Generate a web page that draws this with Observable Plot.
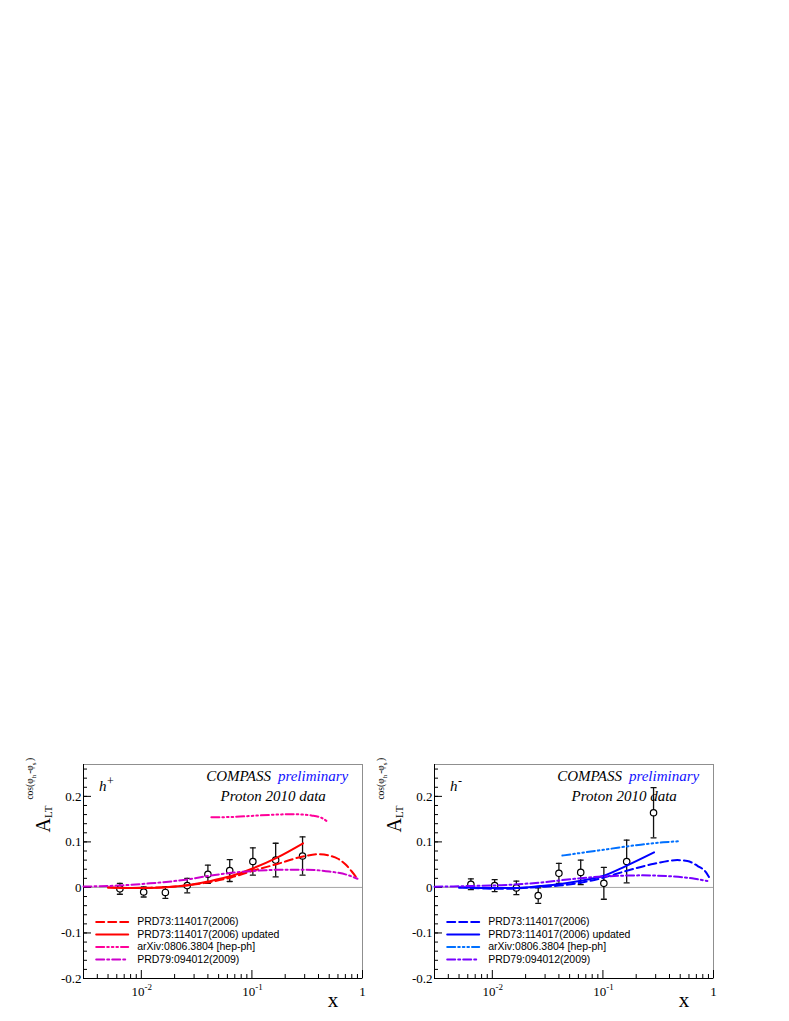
<!DOCTYPE html>
<html><head><meta charset="utf-8">
<script src="https://cdn.jsdelivr.net/npm/d3@7"></script>
<script src="https://cdn.jsdelivr.net/npm/@observablehq/plot@0.6"></script>
<style>
body{margin:0;background:#fff;}
#root{position:relative;width:789px;height:1021px;overflow:hidden;background:#fff;}
.panel{position:absolute;top:750px;}
</style></head><body><div id="root"></div>
<script>
// ---------------- data ----------------
const xBins = [0.0064, 0.0105, 0.0165, 0.026, 0.040, 0.063, 0.102, 0.164, 0.287];
const hPlusA   = [-0.003, -0.010, -0.011, 0.004, 0.029, 0.037, 0.057, 0.060, 0.069];
const hPlusErr = [0.012, 0.011, 0.013, 0.016, 0.020, 0.024, 0.030, 0.037, 0.042];
const hMinusA   = [0.007, 0.004, -0.001, -0.018, 0.031, 0.033, 0.009, 0.057, 0.164];
const hMinusErr = [0.012, 0.013, 0.015, 0.017, 0.022, 0.027, 0.035, 0.047, 0.055];

// theory curves, h+
const plus2006X = [0.005, 0.008, 0.012, 0.017, 0.025, 0.04, 0.065, 0.1, 0.167, 0.29, 0.4, 0.5, 0.6, 0.7, 0.8, 0.9];
const plus2006Y = [0.000, -0.001, -0.0005, 0.001, 0.004, 0.011, 0.022, 0.036, 0.051, 0.068, 0.073, 0.070, 0.063, 0.051, 0.035, 0.019];
const plusUpdX = [0.005, 0.008, 0.012, 0.017, 0.025, 0.04, 0.065, 0.1, 0.167, 0.29];
const plusUpdY = [0.000, -0.0015, -0.001, 0.0005, 0.004, 0.013, 0.025, 0.041, 0.065, 0.097];
const plusArxivX = [0.043, 0.07, 0.114, 0.17, 0.228, 0.29, 0.345, 0.425, 0.49];
const plusArxivY = [0.154, 0.155, 0.158, 0.160, 0.161, 0.160, 0.158, 0.153, 0.143];
const plusPrd79X = [0.003, 0.006, 0.012, 0.025, 0.04, 0.065, 0.1, 0.2, 0.3, 0.5, 0.74, 0.9];
const plusPrd79Y = [0.002, 0.004, 0.009, 0.017, 0.025, 0.032, 0.036, 0.039, 0.039, 0.035, 0.027, 0.019];

// theory curves, h-
const minus2006X = [0.005, 0.008, 0.012, 0.017, 0.027, 0.04, 0.065, 0.1, 0.161, 0.29, 0.47, 0.58, 0.72, 0.85, 0.91];
const minus2006Y = [0.000, -0.002, -0.003, -0.002, 0.001, 0.004, 0.011, 0.021, 0.036, 0.052, 0.060, 0.058, 0.047, 0.034, 0.023];
const minusUpdX = [0.005, 0.008, 0.012, 0.017, 0.027, 0.04, 0.065, 0.1, 0.161, 0.29];
const minusUpdY = [0.000, -0.001, -0.0015, -0.001, 0.003, 0.007, 0.015, 0.025, 0.047, 0.077];
const minusArxivX = [0.043, 0.11, 0.22, 0.35, 0.49];
const minusArxivY = [0.070, 0.084, 0.094, 0.099, 0.1015];
const minusPrd79X = [0.003, 0.006, 0.012, 0.028, 0.055, 0.1, 0.22, 0.44, 0.64, 0.88];
const minusPrd79Y = [0.0015, 0.003, 0.005, 0.011, 0.019, 0.024, 0.0265, 0.024, 0.020, 0.014];

const legendLabels = ["PRD73:114017(2006)", "PRD73:114017(2006) updated", "arXiv:0806.3804 [hep-ph]", "PRD79:094012(2009)"];
const yMajor = [-0.2, -0.1, 0, 0.1, 0.2];
const yTickLabels = ["-0.2", "-0.1", "0", "0.1", "0.2"];
const xMajor = [0.01, 0.1, 1];
const xTickBase = ["10", "10", "1"];
const xTickExp = ["-2", "-1", ""];
const xDomain = [0.003, 1];
const yDomain = [-0.2, 0.27];

// ---------------- drawing ----------------
const SERIF = "'Liberation Serif','Times New Roman',serif";
const SANS = "'Liberation Sans',Arial,sans-serif";
const W = 395, H = 271, ML = 83, MR = 33, MT = 14, MB = 43;
const lineShape = {draw(ctx, l) { ctx.moveTo(0, 0); ctx.lineTo(0, -l); }};
const yMinor = d3.range(-10, 14).map(i => +(i * 0.02).toFixed(2));
const xMinor = [0.001, 0.01, 0.1].flatMap(d => d3.range(2, 10).map(k => +(k * d).toPrecision(3))).filter(v => v >= 0.003 && v < 1);
const xTicks = xMajor.map((v, i) => ({v, base: xTickBase[i], exp: xTickExp[i]}));
const DASH = "8,4", DASHDOT = "8,3,2,3", DASH3DOT = "8,3,1.6,3,1.6,3,1.6,3";
const legendRows = [157.5, 170, 182.5, 195];

function panel(P) {
  const pts = xBins.map((x, i) => ({x, y: P.vals[i], lo: P.vals[i] - P.errs[i], hi: P.vals[i] + P.errs[i]}));
  const marks = [
    Plot.ruleY([0], {stroke: "#a6a6a6", strokeWidth: 1}),
    Plot.frame({stroke: "#8f8f8f", strokeWidth: 1}),
    Plot.ruleX([xDomain[0]], {stroke: "#000", strokeWidth: 1}),
    Plot.ruleY([yDomain[0]], {stroke: "#000", strokeWidth: 1}),
    Plot.axisY(yMinor, {tickSize: -4, fill: "none", stroke: "#000"}),
    Plot.axisY(yMajor, {tickSize: -8, fill: "none", stroke: "#000"}),
    Plot.axisX(xMinor, {tickSize: -4, fill: "none", stroke: "#000"}),
    Plot.axisX(xMajor, {tickSize: -8, fill: "none", stroke: "#000"}),
    Plot.text(yMajor, {y: d => d, text: (d, i) => yTickLabels[i], frameAnchor: "left", textAnchor: "end", lineAnchor: "middle", dx: -2, fontSize: 13, fontFamily: SERIF, fill: "#000"}),
    Plot.text(xTicks.filter(t => t.exp), {x: "v", text: "base", frameAnchor: "bottom", textAnchor: "end", lineAnchor: "bottom", dx: 3.3, dy: 17, fontSize: 13, fontFamily: SERIF}),
    Plot.text(xTicks.filter(t => t.exp), {x: "v", text: "exp", frameAnchor: "bottom", textAnchor: "start", lineAnchor: "bottom", dx: 3.3, dy: 11.5, fontSize: 9, fontFamily: SERIF}),
    Plot.text(xTicks.filter(t => !t.exp), {x: "v", text: "base", frameAnchor: "bottom", textAnchor: "middle", lineAnchor: "bottom", dy: 17, fontSize: 13, fontFamily: SERIF}),
    Plot.text(["x"], {text: d => d, frameAnchor: "bottom-right", textAnchor: "end", lineAnchor: "bottom", dx: -24.3, dy: 28.7, fontSize: 21, fontFamily: SERIF}),
    // data
    Plot.ruleX(pts, {x: "x", y1: "lo", y2: "hi", stroke: "#111", strokeWidth: 1.3}),
    Plot.vector(pts, {x: "x", y: "lo", length: 5, rotate: 90, anchor: "middle", shape: lineShape, stroke: "#111", strokeWidth: 1.3}),
    Plot.vector(pts, {x: "x", y: "hi", length: 5, rotate: 90, anchor: "middle", shape: lineShape, stroke: "#111", strokeWidth: 1.3}),
    Plot.dot(pts, {x: "x", y: "y", r: 3.2, stroke: "#000", fill: "#fff", strokeWidth: 1.2})
  ];
  // theory curves
  P.curves.forEach(c => {
    marks.push(Plot.line(c.xs.map((x, i) => ({x, y: c.ys[i]})), {x: "x", y: "y", stroke: c.color, strokeWidth: 2, strokeDasharray: c.dash, curve: "monotone-x"}));
  });
  // legend
  P.curves.forEach((c, i) => {
    marks.push(Plot.vector([c.label], {frameAnchor: "top-left", dx: 12.7, dy: legendRows[i], length: 32, rotate: 90, anchor: "start", shape: lineShape, stroke: c.color, strokeWidth: 2, strokeDasharray: c.dash}));
    marks.push(Plot.text([c.label], {text: d => d, frameAnchor: "top-left", dx: 53.7, dy: legendRows[i], textAnchor: "start", lineAnchor: "middle", fontSize: 10.5, fontFamily: SANS, fill: "#000"}));
  });
  // titles
  marks.push(
    Plot.text(["COMPASS"], {text: d => d, frameAnchor: "top-left", dx: 122.7, dy: 16.7, textAnchor: "start", lineAnchor: "bottom", fontSize: 15, fontStyle: "italic", fontFamily: SERIF, fill: "#000"}),
    Plot.text(["preliminary"], {text: d => d, frameAnchor: "top-left", dx: 194.4, dy: 16.7, textAnchor: "start", lineAnchor: "bottom", fontSize: 15, fontStyle: "italic", fontFamily: SERIF, fill: "#1010ff"}),
    Plot.text(["Proton 2010 data"], {text: d => d, frameAnchor: "top-left", dx: 189.7, dy: 36, textAnchor: "middle", lineAnchor: "bottom", fontSize: 15, fontStyle: "italic", fontFamily: SERIF, fill: "#000"}),
    Plot.text(["h"], {text: d => d, frameAnchor: "top-left", dx: 15.4, dy: 26, textAnchor: "start", lineAnchor: "bottom", fontSize: 15, fontStyle: "italic", fontFamily: SERIF}),
    Plot.text([P.sign], {text: d => d, frameAnchor: "top-left", dx: 23.5, dy: 20, textAnchor: "start", lineAnchor: "bottom", fontSize: 12, fontFamily: SERIF}),
    Plot.text(["A"], {text: d => d, frameAnchor: "top-left", dx: -33.3, dy: 68, rotate: -90, textAnchor: "start", lineAnchor: "bottom", fontSize: 20, fontFamily: SERIF})
  );
  const svg = Plot.plot({
    width: W, height: H,
    marginLeft: ML, marginRight: MR, marginTop: MT, marginBottom: MB,
    x: {type: "log", domain: xDomain},
    y: {domain: yDomain},
    style: {background: "transparent", overflow: "visible", fontFamily: SERIF},
    marks
  });
  // y title with sub/superscripts (the rotated "A" text element)
  const t = d3.select(svg).selectAll("text").filter(function() {
    return this.textContent === "A" && /rotate/.test(this.getAttribute("transform") || "");
  });
  if (!t.empty()) {
    t.text(null);
    t.append("tspan").text("A");
    t.append("tspan").attr("font-size", 11).attr("dy", 2).text("LT");
    t.append("tspan").attr("font-size", 9.5).attr("dx", 6).attr("dy", -19).text("cos(φ");
    t.append("tspan").attr("font-size", 7).attr("dy", 2.5).text("h");
    t.append("tspan").attr("font-size", 9.5).attr("dx", 1).attr("dy", -2.5).text("-φ");
    t.append("tspan").attr("font-size", 7).attr("dy", 2.5).text("s");
    t.append("tspan").attr("font-size", 9.5).attr("dx", 1.5).attr("dy", -2.5).text(")");
  }
  return svg;
}

const panels = [
  {left: 0, sign: "+", vals: hPlusA, errs: hPlusErr, curves: [
    {label: legendLabels[0], xs: plus2006X, ys: plus2006Y, color: "#ff0000", dash: DASH},
    {label: legendLabels[1], xs: plusUpdX, ys: plusUpdY, color: "#ff0000", dash: null},
    {label: legendLabels[2], xs: plusArxivX, ys: plusArxivY, color: "#ff0099", dash: DASH3DOT},
    {label: legendLabels[3], xs: plusPrd79X, ys: plusPrd79Y, color: "#cc00cc", dash: DASHDOT}
  ]},
  {left: 351, sign: "-", vals: hMinusA, errs: hMinusErr, curves: [
    {label: legendLabels[0], xs: minus2006X, ys: minus2006Y, color: "#0000ff", dash: DASH},
    {label: legendLabels[1], xs: minusUpdX, ys: minusUpdY, color: "#0000ff", dash: null},
    {label: legendLabels[2], xs: minusArxivX, ys: minusArxivY, color: "#0070ff", dash: DASH3DOT},
    {label: legendLabels[3], xs: minusPrd79X, ys: minusPrd79Y, color: "#7700ff", dash: DASHDOT}
  ]}
];
const root = document.getElementById("root");
panels.forEach(P => {
  const div = document.createElement("div");
  div.className = "panel";
  div.style.left = P.left + "px";
  div.appendChild(panel(P));
  root.appendChild(div);
});
</script></body></html>
